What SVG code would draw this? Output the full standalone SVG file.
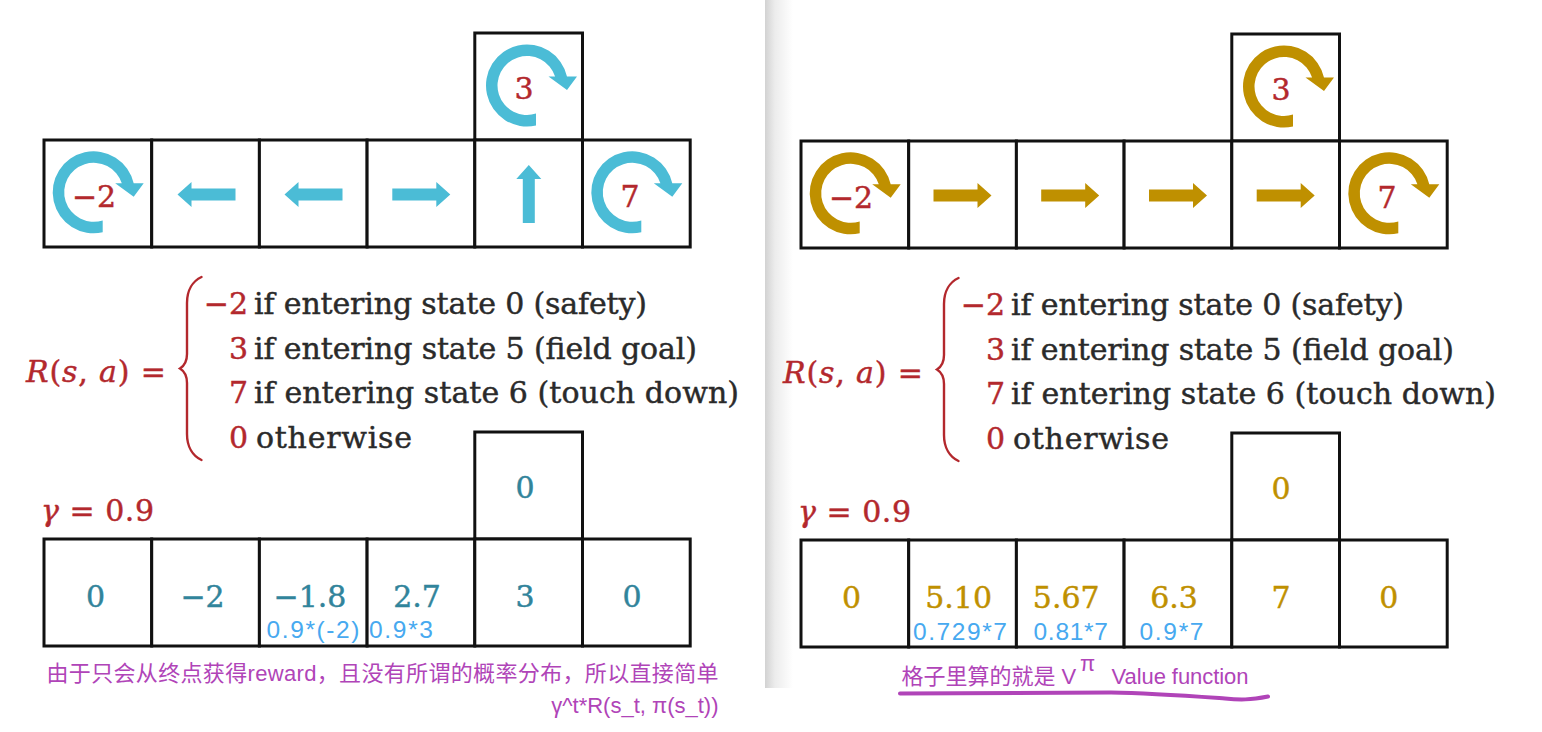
<svg xmlns="http://www.w3.org/2000/svg" xmlns:xlink="http://www.w3.org/1999/xlink" width="1542" height="732" viewBox="0 0 1542 732">
  <style>
    .cell { fill: #ffffff; stroke: #111111; stroke-width: 3; }
    .serif { font-family: "DejaVu Serif", "Liberation Serif", serif; font-size: 30px; stroke-width: 0.45; }
    .red { fill: #B3282D; stroke: #B3282D; }
    .dark { fill: #2a2a2a; stroke: #2a2a2a; }
    .teal { fill: #31849B; stroke: #31849B; }
    .tgold { fill: #BF9000; stroke: #BF9000; }
    .gold { fill: #BF9000; }
    .cyan { fill: #4BBCD6; }
    .mid { text-anchor: middle; }
    .sub { font-family: "Liberation Sans", Arial, sans-serif; font-size: 24.5px; fill: #47A9F0; }
    .note { font-family: "Liberation Sans", "Noto Sans CJK SC", sans-serif; font-size: 22px; fill: #B044B8; }
    .brace { fill: none; stroke: #B3282D; stroke-width: 2.4; stroke-linecap: round; }
  </style>
  <defs>
    <path id="circArrow" d="M 9 40 A 41 41 0 1 1 40 -9 L 50 -9 L 40 4.5 L 21.5 -9 L 28.1 -9 A 29.5 29.5 0 1 0 9 28.1 Z"/>
    <path id="arrowR" d="M -29 -6 L 15 -6 L 15 -12.5 L 29 0 L 15 12.5 L 15 6 L -29 6 Z"/>
    <linearGradient id="shadow" x1="0" y1="0" x2="1" y2="0">
      <stop offset="0" stop-color="#d2d2d2"/>
      <stop offset="0.35" stop-color="#ececec"/>
      <stop offset="1" stop-color="#ffffff"/>
    </linearGradient>
  </defs>

  <rect x="0" y="0" width="1542" height="732" fill="#ffffff"/>
  <rect id="panel-shadow" x="765" y="0" width="28" height="688" fill="url(#shadow)"/>

  <!-- LEFT PANEL -->
  <g id="left-panel">
    <g id="L-top-s5"><rect class="cell" x="474.8" y="33" width="107.7" height="107"/>
      <use xlink:href="#circArrow" class="cyan" transform="translate(527,85.5)"/>
      <text class="serif red mid" x="524" y="99">3</text></g>
    <g id="L-top-s0"><rect class="cell" x="44" y="140" width="107.7" height="107"/>
      <use xlink:href="#circArrow" class="cyan" transform="translate(93.7,192.3)"/>
      <text class="serif red mid" x="94" y="206.5">−2</text></g>
    <g id="L-top-s1"><rect class="cell" x="151.7" y="140" width="107.7" height="107"/>
      <use xlink:href="#arrowR" class="cyan" transform="translate(206.5,194.5) rotate(180)"/></g>
    <g id="L-top-s2"><rect class="cell" x="259.4" y="140" width="107.7" height="107"/>
      <use xlink:href="#arrowR" class="cyan" transform="translate(313.5,194.5) rotate(180)"/></g>
    <g id="L-top-s3"><rect class="cell" x="367.1" y="140" width="107.7" height="107"/>
      <use xlink:href="#arrowR" class="cyan" transform="translate(421.3,194.5)"/></g>
    <g id="L-top-s4"><rect class="cell" x="474.8" y="140" width="107.7" height="107"/>
      <use xlink:href="#arrowR" class="cyan" transform="translate(528.8,194) rotate(-90)"/></g>
    <g id="L-top-s6"><rect class="cell" x="582.5" y="140" width="107.7" height="107"/>
      <use xlink:href="#circArrow" class="cyan" transform="translate(632.3,192.3)"/>
      <text class="serif red mid" x="630" y="206.5">7</text></g>

    <g id="L-formula">
      <text class="serif red" x="26" y="381.5" textLength="140"><tspan font-style="italic">R</tspan>(<tspan font-style="italic">s</tspan>, <tspan font-style="italic">a</tspan>) =</text>
      <path class="brace" d="M 201.5 277 C 193 281, 187 290, 187 303 L 187 354 C 187 362, 184 366, 180 368.5 C 184 371, 187 375, 187 383 L 187 434 C 187 447, 193 456, 201.5 460"/>
      <text class="serif red" x="248" y="314" text-anchor="end">−2</text>
      <text class="serif dark" x="254" y="314" textLength="393">if entering state 0 (safety)</text>
      <text class="serif red" x="248" y="358.7" text-anchor="end">3</text>
      <text class="serif dark" x="254" y="358.7" textLength="443">if entering state 5 (field goal)</text>
      <text class="serif red" x="248" y="403.4" text-anchor="end">7</text>
      <text class="serif dark" x="254" y="403.4" textLength="485">if entering state 6 (touch down)</text>
      <text class="serif red" x="248" y="448" text-anchor="end">0</text>
      <text class="serif dark" x="256" y="448" textLength="156">otherwise</text>
    </g>
    <text id="L-gamma" class="serif red" x="41" y="520.5" textLength="113"><tspan font-style="italic">γ</tspan> = 0.9</text>

    <g id="L-bot-s5"><rect class="cell" x="474.8" y="432" width="107.7" height="107"/>
      <text class="serif teal mid" x="525" y="498">0</text></g>
    <g id="L-bot-s0"><rect class="cell" x="44" y="539" width="107.7" height="107"/>
      <text class="serif teal mid" x="95.5" y="606.5">0</text></g>
    <g id="L-bot-s1"><rect class="cell" x="151.7" y="539" width="107.7" height="107"/>
      <text class="serif teal mid" x="202.5" y="606.5">−2</text></g>
    <g id="L-bot-s2"><rect class="cell" x="259.4" y="539" width="107.7" height="107"/>
      <text class="serif teal mid" x="310" y="606.5">−1.8</text>
      <text class="sub" x="266.5" y="638" textLength="93">0.9*(-2)</text></g>
    <g id="L-bot-s3"><rect class="cell" x="367.1" y="539" width="107.7" height="107"/>
      <text class="serif teal mid" x="417" y="606.5">2.7</text>
      <text class="sub" x="369" y="638" textLength="64">0.9*3</text></g>
    <g id="L-bot-s4"><rect class="cell" x="474.8" y="539" width="107.7" height="107"/>
      <text class="serif teal mid" x="525" y="606.5">3</text></g>
    <g id="L-bot-s6"><rect class="cell" x="582.5" y="539" width="107.7" height="107"/>
      <text class="serif teal mid" x="632" y="606.5">0</text></g>

    <g id="L-note">
      <text class="note" x="46.5" y="681" textLength="672">由于只会从终点获得reward，且没有所谓的概率分布，所以直接简单</text>
      <text class="note" x="718.5" y="713" text-anchor="end">γ^t*R(s_t, π(s_t))</text>
    </g>
  </g>

  <!-- RIGHT PANEL -->
  <g id="right-panel" transform="translate(757,1)">
    <g id="R-top-s5"><rect class="cell" x="474.8" y="33" width="107.7" height="107"/>
      <use xlink:href="#circArrow" class="gold" transform="translate(527,85.5)"/>
      <text class="serif red mid" x="524" y="99">3</text></g>
    <g id="R-top-s0"><rect class="cell" x="44" y="140" width="107.7" height="107"/>
      <use xlink:href="#circArrow" class="gold" transform="translate(93.7,192.3)"/>
      <text class="serif red mid" x="94" y="206.5">−2</text></g>
    <g id="R-top-s1"><rect class="cell" x="151.7" y="140" width="107.7" height="107"/>
      <use xlink:href="#arrowR" class="gold" transform="translate(205.5,194.5)"/></g>
    <g id="R-top-s2"><rect class="cell" x="259.4" y="140" width="107.7" height="107"/>
      <use xlink:href="#arrowR" class="gold" transform="translate(313.2,194.5)"/></g>
    <g id="R-top-s3"><rect class="cell" x="367.1" y="140" width="107.7" height="107"/>
      <use xlink:href="#arrowR" class="gold" transform="translate(421,194.5)"/></g>
    <g id="R-top-s4"><rect class="cell" x="474.8" y="140" width="107.7" height="107"/>
      <use xlink:href="#arrowR" class="gold" transform="translate(528.7,194.5)"/></g>
    <g id="R-top-s6"><rect class="cell" x="582.5" y="140" width="107.7" height="107"/>
      <use xlink:href="#circArrow" class="gold" transform="translate(632.3,192.3)"/>
      <text class="serif red mid" x="630" y="206.5">7</text></g>

    <g id="R-formula">
      <text class="serif red" x="26" y="381.5" textLength="140"><tspan font-style="italic">R</tspan>(<tspan font-style="italic">s</tspan>, <tspan font-style="italic">a</tspan>) =</text>
      <path class="brace" d="M 201.5 277 C 193 281, 187 290, 187 303 L 187 354 C 187 362, 184 366, 180 368.5 C 184 371, 187 375, 187 383 L 187 434 C 187 447, 193 456, 201.5 460"/>
      <text class="serif red" x="248" y="314" text-anchor="end">−2</text>
      <text class="serif dark" x="254" y="314" textLength="393">if entering state 0 (safety)</text>
      <text class="serif red" x="248" y="358.7" text-anchor="end">3</text>
      <text class="serif dark" x="254" y="358.7" textLength="443">if entering state 5 (field goal)</text>
      <text class="serif red" x="248" y="403.4" text-anchor="end">7</text>
      <text class="serif dark" x="254" y="403.4" textLength="485">if entering state 6 (touch down)</text>
      <text class="serif red" x="248" y="448" text-anchor="end">0</text>
      <text class="serif dark" x="256" y="448" textLength="156">otherwise</text>
    </g>
    <text id="R-gamma" class="serif red" x="41" y="520.5" textLength="113"><tspan font-style="italic">γ</tspan> = 0.9</text>

    <g id="R-bot-s5"><rect class="cell" x="474.8" y="432" width="107.7" height="107"/>
      <text class="serif tgold mid" x="524" y="498">0</text></g>
    <g id="R-bot-s0"><rect class="cell" x="44" y="539" width="107.7" height="107"/>
      <text class="serif tgold mid" x="94.5" y="607">0</text></g>
    <g id="R-bot-s1"><rect class="cell" x="151.7" y="539" width="107.7" height="107"/>
      <text class="serif tgold mid" x="201.6" y="607">5.10</text>
      <text class="sub" x="156" y="639" textLength="94">0.729*7</text></g>
    <g id="R-bot-s2"><rect class="cell" x="259.4" y="539" width="107.7" height="107"/>
      <text class="serif tgold mid" x="309.2" y="607">5.67</text>
      <text class="sub" x="276.5" y="639" textLength="74.5">0.81*7</text></g>
    <g id="R-bot-s3"><rect class="cell" x="367.1" y="539" width="107.7" height="107"/>
      <text class="serif tgold mid" x="417" y="607">6.3</text>
      <text class="sub" x="382.5" y="639" textLength="64">0.9*7</text></g>
    <g id="R-bot-s4"><rect class="cell" x="474.8" y="539" width="107.7" height="107"/>
      <text class="serif tgold mid" x="524" y="607">7</text></g>
    <g id="R-bot-s6"><rect class="cell" x="582.5" y="539" width="107.7" height="107"/>
      <text class="serif tgold mid" x="631.7" y="607">0</text></g>
  </g>

  <g id="R-note">
    <text class="note" x="901.5" y="684">格子里算的就是 V</text>
    <text class="note" x="1080" y="671" font-size="18">π</text>
    <text class="note" x="1111.5" y="684" textLength="137">Value function</text>
    <path d="M 900 693.5 L 1111 692.5 C 1150 693, 1190 696, 1225 698.5 C 1240 700, 1250 700, 1268 696.5" fill="none" stroke="#B044B8" stroke-width="4" stroke-linecap="round"/>
  </g>
</svg>
